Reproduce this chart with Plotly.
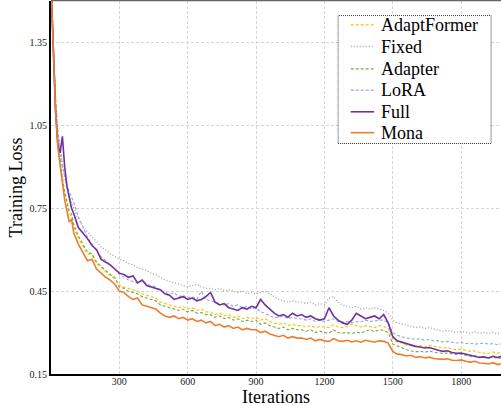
import plotly.graph_objects as go

iterations = list(range(0, 100, 10)) + list(range(100, 2000, 20))

mona = [1.56, 1.31, 1.10, 0.97, 0.90, 0.84, 0.78, 0.74, 0.70, 0.71,
        0.66, 0.62, 0.59, 0.56, 0.565, 0.53, 0.515, 0.50, 0.49, 0.475,
        0.45, 0.445, 0.43, 0.42, 0.425, 0.40, 0.395, 0.39, 0.385, 0.37,
        0.36, 0.355, 0.36, 0.35, 0.355, 0.345, 0.35, 0.34, 0.345, 0.335,
        0.34, 0.325, 0.33, 0.32, 0.325, 0.315, 0.32, 0.31, 0.315, 0.31,
        0.31, 0.30, 0.305, 0.295, 0.29, 0.285, 0.29, 0.28, 0.285, 0.28,
        0.28, 0.275, 0.28, 0.27, 0.275, 0.27, 0.268, 0.278, 0.27, 0.268,
        0.272, 0.266, 0.27, 0.265, 0.272, 0.268, 0.265, 0.27, 0.268, 0.262,
        0.232, 0.222, 0.22, 0.215, 0.218, 0.21, 0.213, 0.208, 0.211, 0.206,
        0.205, 0.203, 0.205, 0.2, 0.199, 0.201, 0.196, 0.193, 0.196, 0.19,
        0.189, 0.186, 0.191, 0.184, 0.188]

adapter = [1.56, 1.32, 1.12, 0.99, 0.92, 0.86, 0.81, 0.77, 0.74, 0.73,
           0.69, 0.65, 0.62, 0.59, 0.585, 0.555, 0.54, 0.525, 0.51, 0.50,
           0.465, 0.46, 0.45, 0.445, 0.44, 0.43, 0.425, 0.42, 0.415, 0.40,
           0.395, 0.39, 0.385, 0.38, 0.385, 0.375, 0.38, 0.37, 0.372, 0.365,
           0.365, 0.355, 0.36, 0.35, 0.355, 0.345, 0.35, 0.34, 0.345, 0.34,
           0.345, 0.33, 0.335, 0.325, 0.32, 0.315, 0.32, 0.31, 0.315, 0.31,
           0.31, 0.305, 0.31, 0.30, 0.305, 0.30, 0.298, 0.31, 0.30, 0.298,
           0.30, 0.296, 0.302, 0.298, 0.305, 0.31, 0.303, 0.31, 0.308, 0.30,
           0.258, 0.25, 0.245, 0.238, 0.235, 0.23, 0.233, 0.228, 0.234, 0.228,
           0.227, 0.224, 0.226, 0.222, 0.22, 0.222, 0.218, 0.214, 0.216, 0.212,
           0.21, 0.208, 0.212, 0.206, 0.209]

adaptformer = [1.56, 1.32, 1.11, 0.98, 0.91, 0.85, 0.80, 0.76, 0.73, 0.72,
               0.68, 0.64, 0.61, 0.585, 0.58, 0.55, 0.535, 0.52, 0.505, 0.495,
               0.47, 0.465, 0.46, 0.455, 0.45, 0.44, 0.435, 0.43, 0.425, 0.41,
               0.405, 0.40, 0.395, 0.39, 0.395, 0.385, 0.39, 0.38, 0.385, 0.375,
               0.375, 0.365, 0.37, 0.36, 0.365, 0.355, 0.36, 0.35, 0.355, 0.35,
               0.355, 0.345, 0.35, 0.34, 0.335, 0.33, 0.335, 0.325, 0.33, 0.325,
               0.325, 0.32, 0.325, 0.318, 0.322, 0.32, 0.318, 0.328, 0.32, 0.318,
               0.322, 0.33, 0.325, 0.32, 0.325, 0.322, 0.318, 0.325, 0.322, 0.315,
               0.275, 0.266, 0.262, 0.255, 0.252, 0.25, 0.253, 0.248, 0.254, 0.25,
               0.248, 0.244, 0.246, 0.24, 0.238, 0.24, 0.236, 0.232, 0.234, 0.228,
               0.226, 0.224, 0.23, 0.225, 0.23]

lora = [1.56, 1.34, 1.15, 1.03, 0.97, 0.91, 0.87, 0.83, 0.81, 0.79,
        0.77, 0.72, 0.68, 0.645, 0.62, 0.595, 0.575, 0.56, 0.545, 0.53,
        0.51, 0.50, 0.49, 0.485, 0.48, 0.49, 0.475, 0.47, 0.465, 0.45,
        0.445, 0.44, 0.445, 0.43, 0.435, 0.425, 0.43, 0.42, 0.45, 0.42,
        0.415, 0.41, 0.405, 0.40, 0.405, 0.395, 0.40, 0.39, 0.395, 0.385,
        0.39, 0.375, 0.37, 0.36, 0.355, 0.355, 0.36, 0.35, 0.355, 0.35,
        0.35, 0.345, 0.35, 0.34, 0.345, 0.34, 0.345, 0.35, 0.34, 0.338,
        0.34, 0.335, 0.34, 0.338, 0.345, 0.34, 0.342, 0.345, 0.345, 0.335,
        0.30, 0.29, 0.285, 0.28, 0.278, 0.275, 0.278, 0.272, 0.275, 0.27,
        0.27, 0.266, 0.268, 0.264, 0.262, 0.265, 0.26, 0.262, 0.258, 0.26,
        0.262, 0.258, 0.26, 0.256, 0.26]

full = [1.56, 1.32, 1.10, 0.98, 0.95, 1.01, 0.90, 0.83, 0.79, 0.75,
        0.73, 0.68, 0.66, 0.64, 0.615, 0.60, 0.565, 0.555, 0.545, 0.53,
        0.515, 0.51, 0.50, 0.505, 0.48, 0.49, 0.47, 0.465, 0.46, 0.455,
        0.44, 0.435, 0.42, 0.425, 0.43, 0.42, 0.425, 0.415, 0.42, 0.43,
        0.445, 0.41, 0.40, 0.405, 0.39, 0.385, 0.38, 0.39, 0.385, 0.395,
        0.39, 0.42, 0.40, 0.385, 0.37, 0.36, 0.365, 0.355, 0.37, 0.36,
        0.365, 0.355, 0.36, 0.35, 0.345, 0.35, 0.39, 0.36, 0.345, 0.335,
        0.33, 0.345, 0.37, 0.36, 0.35, 0.355, 0.36, 0.35, 0.365, 0.335,
        0.285, 0.27, 0.265, 0.258, 0.255, 0.25, 0.248, 0.244, 0.246, 0.24,
        0.236, 0.232, 0.234, 0.228, 0.225, 0.226, 0.222, 0.218, 0.214, 0.21,
        0.212, 0.208, 0.214, 0.21, 0.215]

fixed = [1.56, 1.34, 1.15, 1.02, 0.96, 0.90, 0.86, 0.82, 0.79, 0.77,
         0.75, 0.71, 0.685, 0.665, 0.645, 0.63, 0.61, 0.60, 0.585, 0.575,
         0.565, 0.56, 0.55, 0.545, 0.535, 0.53, 0.525, 0.515, 0.51, 0.50,
         0.49, 0.485, 0.48, 0.475, 0.47, 0.465, 0.47, 0.475, 0.465, 0.46,
         0.46, 0.455, 0.46, 0.45, 0.455, 0.45, 0.445, 0.45, 0.44, 0.445,
         0.44, 0.445, 0.45, 0.44, 0.43, 0.42, 0.415, 0.41, 0.415, 0.41,
         0.41, 0.405, 0.41, 0.40, 0.405, 0.40, 0.425, 0.43, 0.41, 0.40,
         0.395, 0.39, 0.395, 0.385, 0.39, 0.385, 0.39, 0.385, 0.38, 0.37,
         0.345, 0.335, 0.33, 0.325, 0.322, 0.318, 0.32, 0.315, 0.318, 0.313,
         0.31, 0.305, 0.308, 0.303, 0.30, 0.304, 0.3, 0.298, 0.302, 0.298,
         0.3, 0.297, 0.301, 0.296, 0.3]

x_ticks = [300, 600, 900, 1200, 1500, 1800]
y_ticks = [0.15, 0.45, 0.75, 1.05, 1.35]

series = [
    ("AdaptFormer", adaptformer, "#FFC000", "3px,2px", 1.1),
    ("Fixed", fixed, "#A6A6A6", "1px,2px", 1.4),
    ("Adapter", adapter, "#70AD47", "3px,2px", 1.1),
    ("LoRA", lora, "#8FAADC", "3px,2px", 1.1),
    ("Full", full, "#7030A0", "solid", 1.6),
    ("Mona", mona, "#ED7D31", "solid", 1.6),
]

FONT = "Liberation Serif"

fig = go.Figure()
for name, vals, color, dash, w in series:
    fig.add_trace(go.Scatter(x=iterations, y=vals, mode="lines", name=name,
                             line=dict(color=color, dash=dash, width=w),
                             showlegend=False, hoverinfo="skip"))

# legend box drawn in paper coordinates (dotted frame like the reference)
leg_y = [0.936, 0.878, 0.818, 0.761, 0.703, 0.647]
shapes = [
    dict(type="rect", xref="paper", yref="paper", x0=0.638, x1=0.978,
         y0=0.618, y1=0.961, line=dict(color="#333333", width=1, dash="1px,1px"),
         fillcolor="white", layer="above"),
    dict(type="line", xref="paper", yref="paper", x0=0, x1=1, y0=1.002, y1=1.002,
         line=dict(color="#666666", width=2)),
]
annotations = []
for (name, vals, color, dash, w), yy in zip(series, leg_y):
    shapes.append(dict(type="line", xref="paper", yref="paper", x0=0.666, x1=0.718,
                       y0=yy, y1=yy, layer="above",
                       line=dict(color=color, dash=dash, width=w)))
    annotations.append(dict(text=name, xref="paper", yref="paper", x=0.728, y=yy,
                            xanchor="left", yanchor="middle", showarrow=False,
                            font=dict(family=FONT, size=18, color="black")))

annotations.append(dict(text="Iterations", xref="paper", yref="paper", x=0.5, y=-0.062,
                        xanchor="center", yanchor="middle", showarrow=False,
                        font=dict(family=FONT, size=18, color="black")))
annotations.append(dict(text="Training Loss", xref="paper", yref="paper", x=-0.078, y=0.5,
                        xanchor="center", yanchor="middle", showarrow=False, textangle=-90,
                        font=dict(family=FONT, size=18, color="black")))

fig.update_layout(
    width=501, height=406,
    margin=dict(l=51, r=0, t=1, b=32),
    paper_bgcolor="white", plot_bgcolor="white",
    font=dict(family=FONT, color="black"),
    showlegend=False,
    shapes=shapes,
    annotations=annotations,
)

fig.update_xaxes(range=[0, 1975], tickvals=x_ticks, ticktext=[str(v) for v in x_ticks],
                 showgrid=True, gridcolor="#d6d6d6", griddash="3px,2px", gridwidth=1,
                 showline=True, linecolor="black", linewidth=2, ticks="",
                 ticklabelstandoff=-3,
                 tickfont=dict(family=FONT, size=10, color="#222222"), zeroline=False)
fig.update_yaxes(range=[0.15, 1.5], tickvals=y_ticks, ticktext=[f"{v:.2f}" for v in y_ticks],
                 showgrid=True, gridcolor="#d6d6d6", griddash="3px,2px", gridwidth=1,
                 showline=True, linecolor="black", linewidth=2, ticks="",
                 tickfont=dict(family=FONT, size=10, color="#222222"), zeroline=False)

fig.write_html("out.html", config={"displayModeBar": False},
               post_script="document.body.style.margin='0';")
